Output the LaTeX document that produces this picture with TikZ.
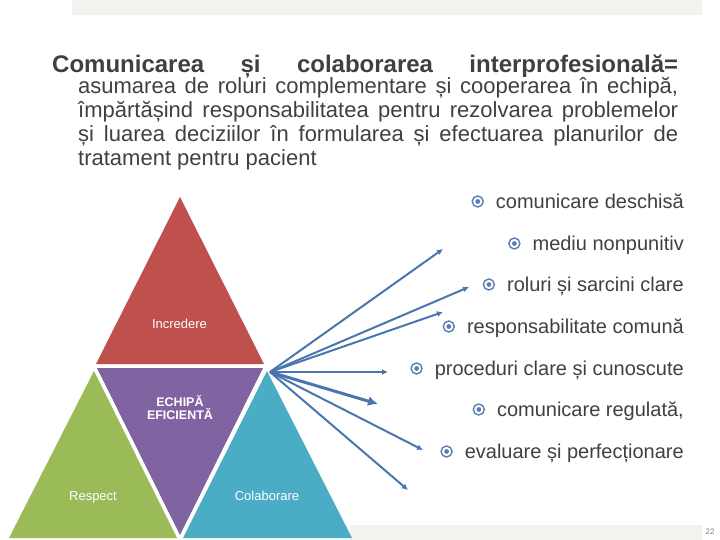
\documentclass[tikz,border=0pt]{standalone}
\usepackage{fontspec}
\setmainfont{Liberation Sans}
\usetikzlibrary{arrows.meta,calc}
\definecolor{txt}{HTML}{404040}
\definecolor{barfill}{HTML}{F3F2EE}
\definecolor{tred}{HTML}{C0504D}
\definecolor{tpurple}{HTML}{8064A2}
\definecolor{tgreen}{HTML}{9BBB59}
\definecolor{tblue}{HTML}{4BACC6}
\definecolor{arr}{HTML}{4A76AE}
\definecolor{bul}{HTML}{5A7DB2}
\tikzset{
  titletext/.style={anchor=base west, inner sep=0pt, text=txt, font=\bfseries\fontsize{24}{26}\selectfont},
  bodytext/.style={anchor=base west, inner sep=0pt, text=txt, font=\fontsize{22}{24}\selectfont},
  itemtext/.style={anchor=base east, inner sep=0pt, text=txt, font=\fontsize{20}{22}\selectfont},
  bulmark/.style={circle, draw=bul, line width=1.4pt, minimum size=11pt, inner sep=0pt,
    path picture={\fill[bul] (path picture bounding box.center) circle (2.4pt);}},
  trilabel/.style={anchor=base, inner sep=0pt, text=white, font=\fontsize{13}{14}\selectfont},
  trititle/.style={align=center, inner sep=0pt, text=white, font=\bfseries\fontsize{12.5}{13}\selectfont},
  thinarrow/.style={draw=arr, line width=2pt, -{Latex[length=6pt,width=6pt]}},
  thickarrow/.style={draw=arr, line width=3pt, -{Latex[length=10pt,width=10pt]}}
}
\begin{document}
\begin{tikzpicture}[x=1pt,y=-1pt]
\useasboundingbox (0,0) rectangle (720,540);
% background bars
\fill[barfill] (72,0) rectangle (702,14.7);
\fill[barfill] (350,525) rectangle (702,540);
\node[inner sep=0pt, text=gray, font=\fontsize{8}{9}\selectfont] (pagenum) at (710,532) {22};

% heading paragraph
\node[titletext] (title) at (52,73) {\hbox to 626pt{Comunicarea\hfill și\hfill colaborarea\hfill interprofesională=}};
\node[bodytext] (l1) at (78,94) {\makebox[600pt][s]{asumarea de roluri complementare și cooperarea în echipă,}};
\node[bodytext] (l2) at (78,118) {\makebox[600pt][s]{împărtășind responsabilitatea pentru rezolvarea problemelor}};
\node[bodytext] (l3) at (78,142) {\makebox[600pt][s]{și luarea deciziilor în formularea și efectuarea planurilor de}};
\node[bodytext] (l4) at (78,166) {tratament pentru pacient};

% triangles
\fill[tred] (180,197) -- (264,364) -- (96,364) -- cycle;
\fill[tpurple] (97,368) -- (263,368) -- (180,535) -- cycle;
\fill[tgreen] (94,371) -- (177,538) -- (9,538) -- cycle;
\fill[tblue] (267,371) -- (352,538) -- (183,538) -- cycle;
\node[trilabel] (incr) at (179.5,328) {Incredere};
\node[trititle] (echipa) at (180,408) {ECHIPĂ\\EFICIENTĂ};
\node[trilabel] (resp) at (93,500.5) {Respect};
\node[trilabel] (colab) at (267,500.5) {Colaborare};

% bullet items
\node[itemtext] (t1) at (684,208) {comunicare deschisă};
\node[itemtext] (t2) at (684,250) {mediu nonpunitiv};
\node[itemtext] (t3) at (684,291) {roluri și sarcini clare};
\node[itemtext] (t4) at (684,333) {responsabilitate comună};
\node[itemtext] (t5) at (684,375) {proceduri clare și cunoscute};
\node[itemtext] (t6) at (684,416) {comunicare regulată,};
\node[itemtext] (t7) at (684,458) {evaluare și perfecționare};
\foreach \i in {1,...,7}{
  \node[bulmark] (b\i) at ($(t\i.base west)+(-18,-6.5)$) {};
}

% arrows
\coordinate (O) at (270,372);
\coordinate (e1) at (443,249);
\coordinate (e2) at (469,287);
\coordinate (e3) at (443,312);
\coordinate (e4) at (388,372);
\coordinate (e5) at (378,404);
\coordinate (e6) at (423,450);
\coordinate (e7) at (408,490);
\draw[thinarrow] (O) -- (e1);
\draw[thinarrow] (O) -- (e2);
\draw[thinarrow] (O) -- (e3);
\draw[thinarrow] (O) -- (e4);
\draw[thickarrow] (O) -- (e5);
\draw[thinarrow] (O) -- (e6);
\draw[thinarrow] (O) -- (e7);
\end{tikzpicture}
\end{document}
